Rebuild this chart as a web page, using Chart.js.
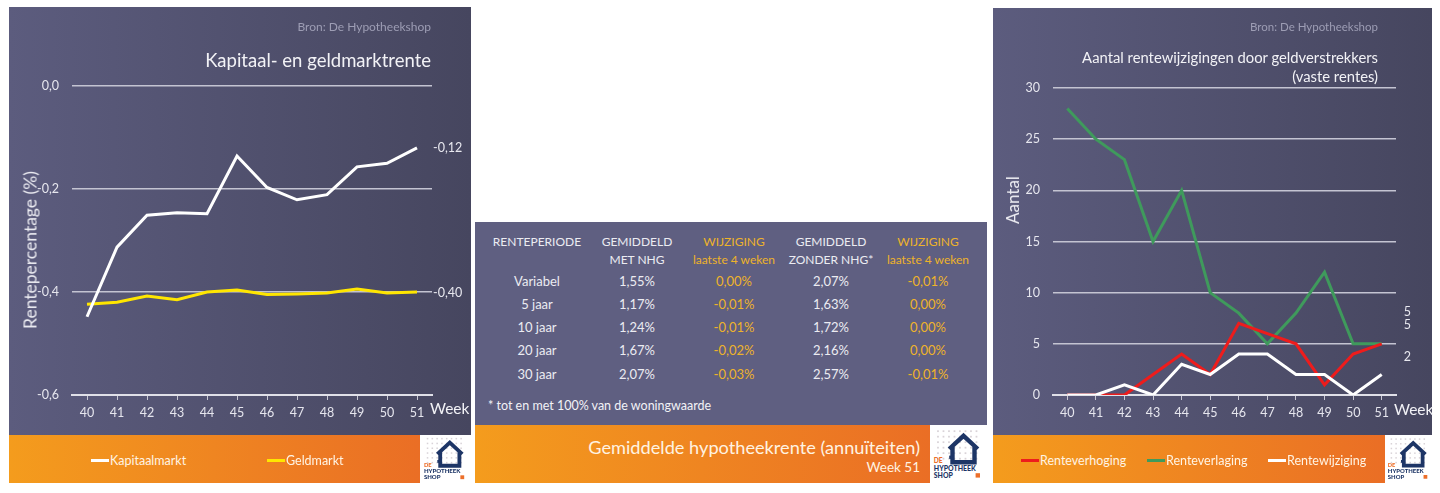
<!DOCTYPE html>
<html>
<head>
<meta charset="utf-8">
<script src="https://cdn.jsdelivr.net/npm/chart.js@4.4.1/dist/chart.umd.min.js"></script>
<style>
  body { margin: 0; background: #fff; font-family: Lato, sans-serif; }
  #page { position: relative; width: 1440px; height: 493px; overflow: hidden; }
  .panel { position: absolute; background: linear-gradient(to right, #5c5c7e, #46465f); }
  .flat { position: absolute; background: #5f5f81; }
  .foot { position: absolute; background: linear-gradient(to right, #f49c1d, #ea6e25); }
  .txt { position: absolute; white-space: nowrap; color: #f2f2f6; }
  .legend { position: absolute; display: flex; align-items: center; font-size: 12.5px; color: #fff4e4; white-space: nowrap; }
  .legend i { display: inline-block; width: 18px; height: 3px; margin-right: 1px; }
  .logo { position: absolute; background: #fff; }
  canvas { position: absolute; }
</style>
</head>
<body>
<div id="page">
  <div class="panel" style="left:9px;top:7px;width:462px;height:428px"></div>
  <div class="foot" style="left:9px;top:435px;width:411px;height:48px"></div>

  <div class="flat" style="left:475px;top:222px;width:512px;height:203px"></div>
  <div class="foot" style="left:475px;top:425px;width:455px;height:58px"></div>

  <div class="panel" style="left:993px;top:8px;width:439px;height:427px"></div>
  <div class="foot" style="left:993px;top:435px;width:392px;height:48px"></div>

  <canvas id="kapitaal"></canvas>
  <canvas id="wijzigingen"></canvas>
</div>

<script>
// weeks on the x axis (shared by both charts)
const weeks = ['40', '41', '42', '43', '44', '45', '46', '47', '48', '49', '50', '51']

// left chart: kapitaal- en geldmarktrente (%)
const kapitaalmarkt = [-0.448, -0.313, -0.251, -0.246, -0.248, -0.136, -0.197, -0.221, -0.211, -0.157, -0.150, -0.12]
const geldmarkt = [-0.424, -0.420, -0.408, -0.415, -0.400, -0.396, -0.405, -0.404, -0.402, -0.394, -0.402, -0.40]

// right chart: aantal rentewijzigingen
const renteverhoging = [0, 0, 0, 2, 4, 2, 7, 6, 5, 1, 4, 5]
const renteverlaging = [28, 25, 23, 15, 20, 10, 8, 5, 8, 12, 5, 5]
const rentewijziging = [0, 0, 1, 0, 3, 2, 4, 4, 2, 2, 0, 2]

// middle table
const tableHead = [
    ['RENTEPERIODE', ''],
    ['GEMIDDELD', 'MET NHG'],
    ['WIJZIGING', 'laatste 4 weken'],
    ['GEMIDDELD', 'ZONDER NHG*'],
    ['WIJZIGING', 'laatste 4 weken']
]
const periodes = ['Variabel', '5 jaar', '10 jaar', '20 jaar', '30 jaar']
const metNhg = ['1,55%', '1,17%', '1,24%', '1,67%', '2,07%']
const wijzigingMet = ['0,00%', '-0,01%', '-0,01%', '-0,02%', '-0,03%']
const zonderNhg = ['2,07%', '1,63%', '1,72%', '2,16%', '2,57%']
const wijzigingZonder = ['-0,01%', '0,00%', '0,00%', '0,00%', '-0,01%']

const page = document.getElementById('page')
const GOLD = '#eeb32a'
const FONT = 'Lato, sans-serif'

const addText = (text, x, y, opts = {}) => {
    const size = opts.size || 12
    const el = document.createElement('div')
    el.className = 'txt'
    el.textContent = text
    el.style.fontSize = size + 'px'
    el.style.lineHeight = Math.round(size * 1.2) + 'px'
    el.style.top = (y - Math.round(size * 1.2) / 2) + 'px'
    if (opts.color) el.style.color = opts.color
    const align = opts.align || 'left'
    if (align === 'right') {
        el.style.right = (1440 - x) + 'px'
    } else if (align === 'center') {
        el.style.left = (x - 60) + 'px'
        el.style.width = '120px'
        el.style.textAlign = 'center'
    } else {
        el.style.left = x + 'px'
    }
    if (opts.rotate) {
        el.style.left = x + 'px'
        el.style.top = y + 'px'
        el.style.transform = 'translate(-50%, -50%) rotate(-90deg)'
    }
    page.appendChild(el)
    return el
}

const addLegend = (y, items) => {
    items.forEach(item => {
        const el = document.createElement('div')
        el.className = 'legend'
        el.style.left = item.x + 'px'
        el.style.top = (y - 8) + 'px'
        el.style.height = '16px'
        el.innerHTML = `<i style="background:${item.color}"></i>${item.label}`
        page.appendChild(el)
    })
}

const addLogo = (x, y, w, h) => {
    const el = document.createElement('div')
    el.className = 'logo'
    el.style.left = x + 'px'
    el.style.top = y + 'px'
    el.style.width = w + 'px'
    el.style.height = h + 'px'
    let dots = ''
    for (let i = 0; i < 8; i++) {
        for (let j = 0; j < 6; j++) {
            dots += `<rect x="${6 + i * 5}" y="${3 + j * 5}" width="1.6" height="1.6" fill="#d9d3d8"/>`
        }
    }
    el.innerHTML = `<svg width="${w}" height="${h}" viewBox="0 0 50 50">
        ${dots}
        <path d="M17 20 L30 8 L43 20 M20 18 V32 H40 V18" fill="none" stroke="#1d3566" stroke-width="4"/>
        <rect x="17" y="26" width="3" height="3" fill="#1d3566"/>
        <text x="3" y="33" font-family="Lato" font-weight="900" font-size="6" fill="#ec6f2a">DE</text>
        <text x="3" y="40" font-family="Lato" font-weight="900" font-size="6.3" fill="#1d3566">HYPOTHEEK</text>
        <text x="3" y="46" font-family="Lato" font-weight="900" font-size="6.3" fill="#1d3566">SHOP</text>
        <rect x="41" y="42" width="4" height="4" fill="#ec6f2a"/>
    </svg>`
    page.appendChild(el)
}

// labels next to the last point of each line, placed through the scales
const endLabels = {
    id: 'endLabels',
    afterDatasetsDraw(chart) {
        const ctx = chart.ctx
        const x = chart.scales.x
        const y = chart.scales.y
        ctx.save()
        ctx.font = '12.5px ' + FONT
        ctx.fillStyle = '#e8e8ef'
        ctx.textBaseline = 'middle'
        chart.data.datasets.forEach(ds => {
            if (!ds.endLabel) return
            const last = ds.data.length - 1
            const px = x.getPixelForValue(last) + ds.endLabel.dx
            const py = y.getPixelForValue(ds.data[last]) + ds.endLabel.dy
            ctx.fillText(ds.endLabel.format(ds.data[last]), px, py)
        })
        ctx.restore()
    }
}

const lineDefaults = {
    borderWidth: 3,
    pointRadius: 0,
    tension: 0,
    fill: false
}

const buildOptions = (yMin, yMax, step, tickFmt, padRight, padTop, axisH, axisW) => ({
    responsive: false,
    animation: false,
    layout: { padding: { top: padTop, right: padRight, bottom: 0, left: 0 } },
    plugins: { legend: { display: false }, tooltip: { enabled: false } },
    scales: {
        x: {
            offset: true,
            afterFit: s => { s.height = axisH },
            grid: {
                offset: false,
                drawOnChartArea: false,
                drawTicks: true,
                tickLength: 5,
                color: '#c9c9d4',
                lineWidth: 1
            },
            border: { display: true, color: '#e0e0e8', width: 2 },
            ticks: { color: '#e6e6ee', font: { family: FONT, size: 12.5 }, padding: 5 }
        },
        y: {
            min: yMin,
            max: yMax,
            afterFit: s => { s.width = axisW },
            grid: { color: '#c4c4d2', lineWidth: 1.5, drawTicks: false, tickLength: 0 },
            border: { display: false },
            ticks: {
                stepSize: step,
                color: '#e6e6ee',
                font: { family: FONT, size: 12.5 },
                padding: 13,
                callback: tickFmt
            }
        }
    }
})

// ---------- left chart ----------
const c1 = document.getElementById('kapitaal')
c1.style.left = '9px'
c1.style.top = '7px'
c1.width = 462
c1.height = 428

new Chart(c1.getContext('2d'), {
    type: 'line',
    data: {
        labels: weeks,
        datasets: [{
            ...lineDefaults,
            label: 'Kapitaalmarkt',
            data: kapitaalmarkt,
            borderColor: '#ffffff',
            endLabel: { dx: 16, dy: 0, format: v => v.toFixed(2).replace('.', ',') }
        }, {
            ...lineDefaults,
            label: 'Geldmarkt',
            data: geldmarkt,
            borderColor: '#ffe600',
            endLabel: { dx: 16, dy: 1, format: v => v.toFixed(2).replace('.', ',') }
        }]
    },
    options: buildOptions(-0.6, 0, 0.2,
        v => (Math.abs(v) < 1e-9 ? 0 : v).toFixed(1).replace('.', ','),
        39, 79, 40, 63),
    plugins: [endLabels]
})

// ---------- right chart ----------
const c2 = document.getElementById('wijzigingen')
c2.style.left = '993px'
c2.style.top = '8px'
c2.width = 439
c2.height = 427

new Chart(c2.getContext('2d'), {
    type: 'line',
    data: {
        labels: weeks,
        datasets: [{
            ...lineDefaults,
            label: 'Renteverhoging',
            data: renteverhoging,
            borderColor: '#ee1c1c',
            order: 1,
            endLabel: { dx: 22, dy: -19, format: v => String(v) }
        }, {
            ...lineDefaults,
            label: 'Renteverlaging',
            data: renteverlaging,
            borderColor: '#3f9a5c',
            order: 2,
            endLabel: { dx: 22, dy: -32, format: v => String(v) }
        }, {
            ...lineDefaults,
            label: 'Rentewijziging',
            data: rentewijziging,
            borderColor: '#ffffff',
            order: 0,
            endLabel: { dx: 22, dy: -18, format: v => String(v) }
        }]
    },
    options: buildOptions(0, 30, 5, v => v, 36, 80, 40, 60),
    plugins: [endLabels]
})

// ---------- texts left panel ----------
addText('Bron: De Hypotheekshop', 431, 27, { align: 'right', size: 12, color: '#9d9db4' })
addText('Kapitaal- en geldmarktrente', 431, 60, { align: 'right', size: 18.5 })
addText('Rentepercentage (%)', 30, 250, { rotate: true, size: 17.5, color: '#ececf2' })
addText('Week', 430, 408, { size: 15.5 })
addLegend(460, [
    { x: 91, label: 'Kapitaalmarkt', color: '#ffffff' },
    { x: 267, label: 'Geldmarkt', color: '#ffe600' }
])
addLogo(420, 435, 50, 48)

// ---------- texts right panel ----------
addText('Bron: De Hypotheekshop', 1378, 27, { align: 'right', size: 11.5, color: '#9d9db4' })
addText('Aantal rentewijzigingen door geldverstrekkers', 1378, 57, { align: 'right', size: 14.8 })
addText('(vaste rentes)', 1378, 76, { align: 'right', size: 14.8 })
addText('Aantal', 1013, 200, { rotate: true, size: 17, color: '#ececf2' })
addText('Week', 1394, 409, { size: 15.5 })
addLegend(460, [
    { x: 1021, label: 'Renteverhoging', color: '#ee1c1c' },
    { x: 1147, label: 'Renteverlaging', color: '#3f9a5c' },
    { x: 1268, label: 'Rentewijziging', color: '#ffffff' }
])
addLogo(1385, 435, 47, 48)

// ---------- middle table ----------
const colX = [537, 637, 734, 831, 928]
const headColors = ['#ececf2', '#ececf2', GOLD, '#ececf2', GOLD]
tableHead.forEach((h, i) => {
    addText(h[0], colX[i], 242, { align: 'center', size: 12, color: headColors[i] })
    if (h[1]) addText(h[1], colX[i], 260, { align: 'center', size: 12, color: headColors[i] })
})
const columns = [periodes, metNhg, wijzigingMet, zonderNhg, wijzigingZonder]
const rowY = [281, 304, 327, 350, 373.5]
columns.forEach((col, i) => {
    col.forEach((val, r) => {
        addText(val, colX[i], rowY[r], { align: 'center', size: 13, color: headColors[i] })
    })
})
addText('* tot en met 100% van de woningwaarde', 488, 405, { size: 12.5 })
addText('Gemiddelde hypotheekrente (annuïteiten)', 920, 447, { align: 'right', size: 18.2, color: '#fff3e2' })
addText('Week 51', 920, 467, { align: 'right', size: 13.5, color: '#fff3e2' })
addLogo(930, 427, 56, 55)
</script>
</body>
</html>
